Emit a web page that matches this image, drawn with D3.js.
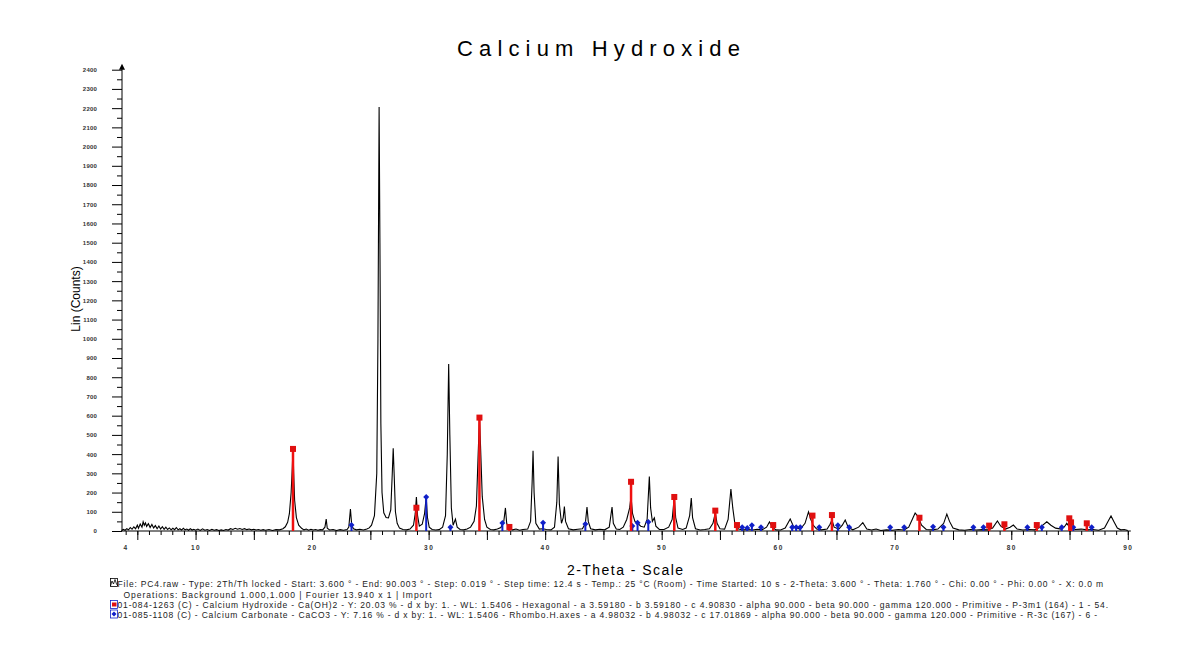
<!DOCTYPE html>
<html lang="en">
<head>
  <meta charset="UTF-8">
  <title>Calcium Hydroxide</title>
  <style>
    body, html { margin: 0; padding: 0; background: #fff; }
    svg { display: block; }
  </style>
</head>
<body>
  <svg id="svg" width="1183" height="665"></svg>
  <script src="https://d3js.org/d3.v7.min.js"></script>
  <script>
    // measured pattern, [2-theta, counts]
    const profile = [
      [3.65,3],[3.8,8],[3.95,4],[4.1,12],[4.25,6],[4.4,18],[4.55,9],[4.7,22],[4.85,12],[5.0,30],
      [5.1,14],[5.25,36],[5.4,20],[5.5,48],[5.6,30],[5.7,42],[5.8,24],[5.95,38],[6.1,18],[6.25,34],
      [6.4,16],[6.55,28],[6.7,12],[6.85,26],[7.0,10],[7.15,22],[7.3,9],[7.45,20],[7.6,8],[7.75,16],
      [7.9,6],[8.05,14],[8.2,7],[8.35,18],[8.5,6],[8.65,12],[8.8,5],[8.95,14],[9.1,6],[9.25,10],
      [9.4,4],[9.55,12],[9.7,5],[9.85,9],[10.0,4],[10.2,10],[10.4,3],[10.6,11],[10.8,4],[11.0,8],
      [11.2,3],[11.4,9],[11.6,4],[11.8,7],[12.0,3],[12.2,6],[12.4,3],[12.6,8],[12.8,5],[13.0,12],
      [13.2,8],[13.4,14],[13.6,9],[13.8,13],[14.0,8],[14.2,12],[14.4,7],[14.6,10],[14.8,6],[15.0,9],
      [15.2,5],[15.4,8],[15.6,4],[15.8,7],[16.0,4],[16.3,8],[16.6,3],[16.9,7],[17.2,6],[17.5,12],
      [17.7,22],[17.9,45],[18.05,90],[18.2,200],[18.3,330],[18.36,430],[18.42,300],[18.5,160],[18.65,70],[18.85,30],
      [19.1,14],[19.3,6],[19.5,10],[19.7,4],[19.9,9],[20.1,5],[20.3,8],[20.5,4],[20.7,7],[20.9,6],
      [21.1,20],[21.21,62],[21.3,14],[21.5,5],[21.8,8],[22.1,3],[22.4,7],[22.7,4],[23.0,8],[23.15,20],
      [23.29,114],[23.4,30],[23.55,12],[23.8,6],[24.1,9],[24.4,5],[24.7,10],[24.9,16],[25.1,30],[25.35,80],
      [25.55,300],[25.65,1000],[25.75,2206],[25.82,1500],[25.9,560],[26.0,200],[26.15,95],[26.35,70],[26.55,68],[26.75,110],
      [26.88,300],[26.96,430],[27.05,280],[27.15,100],[27.3,40],[27.5,15],[27.8,8],[28.1,6],[28.4,10],[28.7,30],
      [28.85,90],[28.95,177],[29.05,80],[29.2,25],[29.45,35],[29.65,90],[29.79,177],[29.9,70],[30.05,20],[30.3,8],
      [30.6,5],[30.9,7],[31.2,20],[31.45,80],[31.6,400],[31.72,869],[31.82,500],[31.95,120],[32.1,30],[32.3,62],
      [32.45,20],[32.7,8],[33.0,6],[33.3,10],[33.6,20],[33.9,50],[34.1,130],[34.25,400],[34.36,588],[34.45,450],
      [34.6,180],[34.8,60],[35.0,20],[35.3,8],[35.6,6],[35.9,10],[36.2,18],[36.45,50],[36.59,120],[36.7,40],
      [36.9,12],[37.2,6],[37.5,10],[37.8,4],[38.1,8],[38.5,10],[38.75,50],[38.88,250],[38.96,418],[39.05,200],
      [39.2,40],[39.5,10],[39.8,12],[40.1,8],[40.5,6],[40.8,20],[41.0,150],[41.11,387],[41.22,140],[41.4,40],
      [41.55,70],[41.65,127],[41.75,50],[42.0,12],[42.4,6],[42.8,9],[43.2,12],[43.45,40],[43.59,125],[43.7,50],
      [43.9,12],[44.3,6],[44.7,9],[45.1,6],[45.5,20],[45.74,125],[45.85,40],[46.1,10],[46.4,8],[46.7,20],
      [47.0,60],[47.25,120],[47.37,178],[47.5,90],[47.7,50],[47.95,40],[48.2,25],[48.5,20],[48.75,60],[48.94,283],
      [49.05,120],[49.2,50],[49.37,68],[49.5,25],[49.8,8],[50.2,8],[50.6,20],[50.9,60],[51.08,177],[51.2,70],
      [51.4,15],[51.8,8],[52.1,15],[52.4,80],[52.54,172],[52.65,70],[52.9,12],[53.3,5],[53.7,8],[54.1,12],
      [54.4,40],[54.6,94],[54.75,40],[55.0,12],[55.4,10],[55.7,60],[55.94,218],[56.1,120],[56.3,30],[56.6,10],
      [57.0,6],[57.4,8],[57.8,5],[58.2,9],[58.6,6],[59.0,20],[59.25,47],[59.5,20],[59.8,6],[60.2,5],
      [60.6,15],[61.03,62],[61.3,25],[61.6,15],[61.9,10],[62.3,40],[62.6,100],[62.8,60],[63.0,30],[63.3,10],
      [63.7,6],[64.2,10],[64.45,35],[64.61,57],[64.8,20],[65.2,10],[65.5,30],[65.75,57],[66.0,20],[66.4,6],
      [66.9,20],[67.26,43],[67.6,10],[68.0,5],[68.4,10],[68.8,3],[69.3,6],[69.8,4],[70.3,8],[70.8,5],
      [71.2,20],[71.5,60],[71.75,94],[72.0,75],[72.3,30],[72.7,8],[73.2,6],[73.7,10],[74.2,40],[74.47,88],
      [74.7,50],[75.0,15],[75.5,6],[76.0,4],[76.5,8],[77.0,5],[77.5,7],[78.0,6],[78.4,15],[78.81,52],
      [79.1,25],[79.5,10],[79.9,20],[80.18,31],[80.5,10],[81.0,5],[81.5,8],[82.0,6],[82.5,20],[83.05,48],
      [83.4,30],[83.8,15],[84.3,10],[84.6,25],[84.76,40],[85.0,20],[85.5,8],[86.0,10],[86.5,6],[87.0,8],
      [87.5,4],[88.0,15],[88.3,50],[88.56,78],[88.8,50],[89.1,15],[89.4,6],[89.7,8],[90.0,3]
    ]

    // 01-084-1263 Calcium Hydroxide sticks [2-theta, counts]
    const hydroxideLines = [
      [18.36,427],[28.95,121],[34.36,590],[36.93,21],[47.37,256],[51.08,177],[54.6,106],[56.46,31],
      [59.57,31],[62.94,80],[64.61,83],[72.12,69],[78.1,28],[79.41,35],[82.19,31],[84.98,66],[85.13,45],[86.48,40]
    ]

    // 01-085-1108 Calcium Carbonate sticks [2-theta, counts]
    const carbonateLines = [
      [23.38,31],[29.79,177],[31.87,20],[36.33,42],[39.82,43],[43.45,36],[47.48,26],[47.93,43],[48.85,47],
      [56.91,20],[57.34,15],[57.74,30],[58.52,20],[61.2,20],[61.54,20],[61.89,20],[63.52,20],[65.12,30],
      [66.09,20],[69.61,20],[70.81,20],[73.29,22],[74.18,20],[76.75,20],[77.61,20],[81.38,20],[82.62,20],
      [84.33,20],[85.32,20],[86.9,20]
    ]

    const yTicks = d3.range(0, 2401, 100)
    const xTickLabels = [4, 10, 20, 30, 40, 50, 60, 70, 80, 90]

    const legendLines = [
      'File: PC4.raw - Type: 2Th/Th locked - Start: 3.600 ° - End: 90.003 ° - Step: 0.019 ° - Step time: 12.4 s - Temp.: 25 °C (Room) - Time Started: 10 s - 2-Theta: 3.600 ° - Theta: 1.760 ° - Chi: 0.00 ° - Phi: 0.00 ° - X: 0.0 m',
      'Operations: Background 1.000,1.000 | Fourier 13.940 x 1 | Import',
      '01-084-1263 (C) - Calcium Hydroxide - Ca(OH)2 - Y: 20.03 % - d x by: 1. - WL: 1.5406 - Hexagonal - a 3.59180 - b 3.59180 - c 4.90830 - alpha 90.000 - beta 90.000 - gamma 120.000 - Primitive - P-3m1 (164) - 1 - 54.',
      '01-085-1108 (C) - Calcium Carbonate - CaCO3 - Y: 7.16 % - d x by: 1. - WL: 1.5406 - Rhombo.H.axes - a 4.98032 - b 4.98032 - c 17.01869 - alpha 90.000 - beta 90.000 - gamma 120.000 - Primitive - R-3c (167) - 6 -'
    ]

    const svg = d3.select('#svg')
    const font = 'Liberation Sans, Arial, sans-serif'

    const x = d3.scaleLinear().domain([3.6, 90]).range([121, 1127.8])
    const y = d3.scaleLinear().domain([0, 2400]).range([531, 69.7])

    // title
    svg.append('text')
      .attr('x', 457).attr('y', 56)
      .attr('textLength', 283).attr('lengthAdjust', 'spacing')
      .attr('font-family', font).attr('font-size', 22)
      .text('Calcium Hydroxide')

    // y axis, minor then major
    svg.append('g')
      .attr('transform', `translate(${x(3.6) + 1},0)`)
      .call(d3.axisLeft(y).tickValues(d3.range(50, 2400, 100)).tickSize(5).tickFormat(''))
      .call(g => g.select('.domain').remove())
    const yAxis = svg.append('g')
      .attr('transform', `translate(${x(3.6) + 1},0)`)
      .call(d3.axisLeft(y).tickValues(yTicks).tickSize(10).tickPadding(15).tickFormat(d3.format('d')))
    yAxis.select('.domain').attr('d', `M0,${y(0)}V${y(2400) - 4}`)
    yAxis.selectAll('text')
      .attr('font-family', font).attr('font-size', 6)
      .attr('font-weight', 'bold').attr('fill', '#333').attr('letter-spacing', 0.2)
    svg.append('path')
      .attr('d', `M${x(3.6) + 1},${y(2400) - 6} l-3,6 l6,0 z`)
      .attr('fill', '#000')

    svg.append('text')
      .attr('transform', `translate(80,299) rotate(-90)`)
      .attr('text-anchor', 'middle')
      .attr('font-family', font).attr('font-size', 12)
      .text('Lin (Counts)')

    // x axis
    svg.append('g')
      .attr('transform', `translate(0,${y(0)})`)
      .call(d3.axisBottom(x).tickValues(d3.range(4, 91, 1)).tickSize(4).tickFormat(''))
      .call(g => g.select('.domain').attr('d', `M${x(3.6)},0H${x(90) + 3}`))
    svg.append('g')
      .attr('transform', `translate(0,${y(0)})`)
      .call(d3.axisBottom(x).tickValues(d3.range(5, 91, 5)).tickSize(9).tickFormat(''))
      .call(g => g.select('.domain').remove())
    const xAxis = svg.append('g')
      .attr('transform', `translate(0,${y(0)})`)
      .call(d3.axisBottom(x).tickValues(xTickLabels).tickSize(0).tickPadding(14).tickFormat(d3.format('d')))
    xAxis.select('.domain').remove()
    xAxis.selectAll('text')
      .attr('font-family', font).attr('font-size', 6.5)
      .attr('font-weight', 'bold').attr('fill', '#333').attr('letter-spacing', 1.5)

    svg.append('text')
      .attr('x', 567).attr('y', 575)
      .attr('textLength', 116).attr('lengthAdjust', 'spacing')
      .attr('font-family', font).attr('font-size', 14)
      .text('2-Theta - Scale')

    // pattern
    const line = d3.line().x(d => x(d[0])).y(d => y(d[1]))
    svg.append('path')
      .datum(profile)
      .attr('d', line)
      .attr('fill', 'none')
      .attr('stroke', '#000')
      .attr('stroke-width', 1.1)

    // calcium carbonate sticks
    svg.append('g').selectAll('line')
      .data(carbonateLines)
      .join('line')
      .attr('x1', d => x(d[0])).attr('x2', d => x(d[0]))
      .attr('y1', y(0)).attr('y2', d => y(d[1]))
      .attr('stroke', '#1020c8').attr('stroke-width', 2)
    svg.append('g').selectAll('path')
      .data(carbonateLines)
      .join('path')
      .attr('transform', d => `translate(${x(d[0])},${y(d[1])})`)
      .attr('d', 'M0,-3 L3,0 L0,3 L-3,0 Z')
      .attr('fill', '#1020c8')

    // calcium hydroxide sticks
    svg.append('g').selectAll('line')
      .data(hydroxideLines)
      .join('line')
      .attr('x1', d => x(d[0])).attr('x2', d => x(d[0]))
      .attr('y1', y(0)).attr('y2', d => y(d[1]))
      .attr('stroke', '#f01010').attr('stroke-width', 2.5)
    svg.append('g').selectAll('rect')
      .data(hydroxideLines)
      .join('rect')
      .attr('x', d => x(d[0]) - 3).attr('y', d => y(d[1]) - 3)
      .attr('width', 6).attr('height', 6)
      .attr('fill', '#e01010')

    // legend
    const legendY = [586.5, 597.5, 608, 617.5]
    const legendX = [117.5, 123.5, 117.5, 117.5]
    const legendW = [985.5, 308, 990.5, 979.5]
    svg.append('g').selectAll('text')
      .data(legendLines)
      .join('text')
      .attr('x', (d, i) => legendX[i]).attr('y', (d, i) => legendY[i])
      .attr('textLength', (d, i) => legendW[i]).attr('lengthAdjust', 'spacing')
      .attr('font-family', font).attr('font-size', 8.5)
      .attr('fill', '#222')
      .text(d => d)

    // legend icons
    const icons = svg.append('g')
    icons.append('rect').attr('x', 110.5).attr('y', 578.5).attr('width', 7).attr('height', 8)
      .attr('fill', 'none').attr('stroke', '#000').attr('stroke-width', 0.8)
    icons.append('path').attr('d', 'M110.5,586 L112,581 L113.5,584 L115,579.5 L116.5,584 L118,586')
      .attr('fill', 'none').attr('stroke', '#000').attr('stroke-width', 0.8)
    icons.append('rect').attr('x', 110.5).attr('y', 600.5).attr('width', 7).attr('height', 8)
      .attr('fill', '#fff').attr('stroke', '#1020c8').attr('stroke-width', 0.8)
    icons.append('rect').attr('x', 112).attr('y', 602.5).attr('width', 4.5).attr('height', 4)
      .attr('fill', '#e01010')
    icons.append('rect').attr('x', 110.5).attr('y', 610).attr('width', 7).attr('height', 8)
      .attr('fill', '#fff').attr('stroke', '#1020c8').attr('stroke-width', 0.8)
    icons.append('path').attr('d', 'M114,611.5 L116.5,614 L114,616.5 L111.5,614 Z')
      .attr('fill', '#1020c8')
  </script>
</body>
</html>
